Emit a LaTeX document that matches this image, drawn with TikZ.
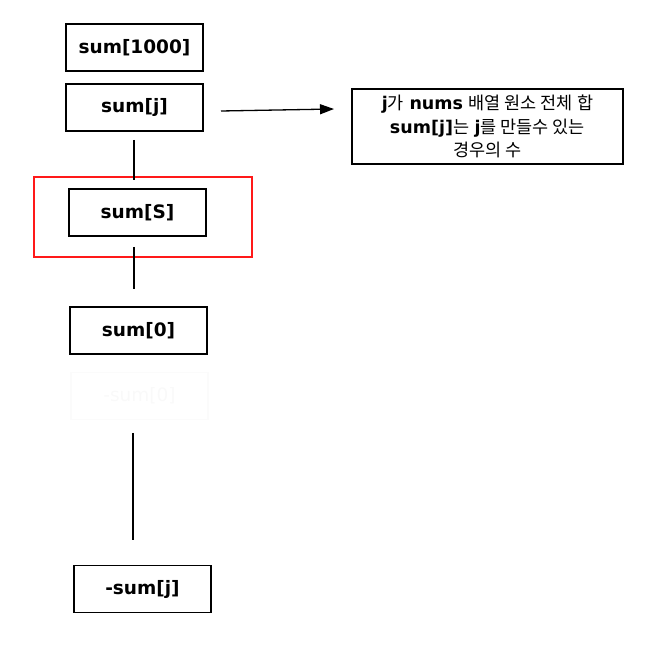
\documentclass[tikz,border=0pt]{standalone}
\usepackage{fontspec}
\setmainfont{DejaVu Sans}
\newfontfamily\krfont{Noto Sans CJK KR}
\usetikzlibrary{arrows.meta}

\begin{document}
\begin{tikzpicture}[x=1pt, y=-1pt,
    cell/.style={draw, line width=1.5pt, minimum width=137pt, minimum height=47pt,
                 inner sep=0pt, font=\fontsize{18.5}{22}\selectfont\bfseries},
    faint/.style={cell, draw=gray!3, text=gray!5, font=\fontsize{18.5}{22}\selectfont},
    link/.style={line width=1.3pt},
    pointer/.style={line width=1.3pt, -{Triangle[length=14pt, width=10pt]}}]
    \useasboundingbox (0,0) rectangle (657,652);

    %cells
    \node[cell] (sumT) at (134.5, 47.5) {sum[1000]};
    \node[cell] (sumj) at (134.5, 107.5) {sum[j]};
    \node[cell] (sumS) at (137.5, 212.5) {sum[S]};
    \node[draw=red!90!white, line width=1.4pt, minimum width=218pt, minimum height=80pt]
        (hilite) at (143, 217) {};
    \node[cell] (sum0) at (138.5, 330.5) {sum[0]};
    \node[faint] (neg0) at (139.5, 396) {-sum[0]};
    \node[cell] (negj) at (142.5, 589) {-sum[j]};

    %note
    \node[draw, line width=1.5pt, minimum width=271pt, minimum height=75pt, align=center,
          font=\fontsize{17.5}{23.5}\selectfont] (note) at (487.5, 126.5)
        {{\bfseries j}{\krfont 가} {\bfseries nums} {\krfont 배열 원소 전체 합}\\
         {\bfseries sum[j]}{\krfont 는} {\bfseries j}{\krfont 를 만들수 있는}\\
         {\krfont 경우의 수}};

    %links
    \coordinate (a1) at (134, 140);
    \coordinate (a2) at (134, 180);
    \coordinate (b1) at (134, 247);
    \coordinate (b2) at (134, 289);
    \coordinate (c1) at (133, 433);
    \coordinate (c2) at (133, 540);
    \draw[link] (a1) -- (a2);
    \draw[link] (b1) -- (b2);
    \draw[link] (c1) -- (c2);

    \coordinate (p1) at (221, 111);
    \coordinate (p2) at (334, 109);
    \draw[pointer] (p1) -- (p2);
\end{tikzpicture}
\end{document}
